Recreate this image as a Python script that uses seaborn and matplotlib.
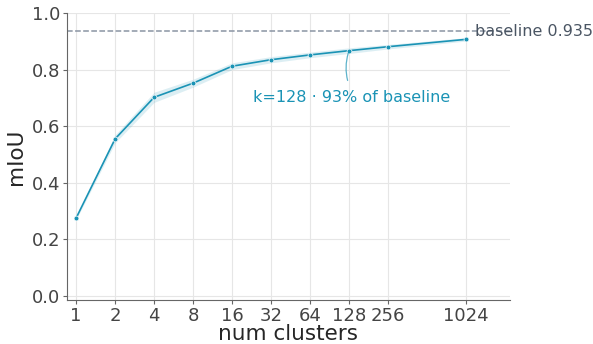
import numpy as np
import pandas as pd
import matplotlib
matplotlib.use("Agg")
import matplotlib.pyplot as plt
import seaborn as sns

clusters = [1, 2, 4, 8, 16, 32, 64, 128, 256, 1024]
miou = [0.275, 0.555, 0.702, 0.752, 0.812, 0.835, 0.852, 0.867, 0.881, 0.907]
band = [0.006, 0.014, 0.018, 0.014, 0.012, 0.011, 0.010, 0.010, 0.008, 0.006]
baseline = 0.935

line_color = "#1a93b5"
df = pd.DataFrame({"num clusters": clusters, "mIoU": miou})

sns.set_style("whitegrid", {"grid.color": "#e6e6e6", "axes.edgecolor": "#666666"})
plt.rcParams["font.family"] = ["DejaVu Sans"]

fig, ax = plt.subplots(figsize=(5.93, 3.44), dpi=100)

lo = np.array(miou) - np.array(band)
hi = np.array(miou) + np.array(band)
ax.fill_between(clusters, lo, hi, color=line_color, alpha=0.15, linewidth=0)
sns.lineplot(data=df, x="num clusters", y="mIoU", ax=ax, color=line_color,
             linewidth=1.2, marker="o", markersize=3.5, markeredgecolor="white",
             markeredgewidth=0.5)

ax.axhline(baseline, color="#8a94a3", linestyle="--", linewidth=1.1)
ax.text(1200, baseline, "baseline 0.935", color="#4a5563", fontsize=11.5,
        va="center", ha="left")

i = clusters.index(128)
ax.annotate(f"k=128 · {miou[i] / baseline:.0%} of baseline",
            xy=(128, miou[i]), xytext=(133, 0.700),
            ha="center", va="center", color=line_color, fontsize=11.5,
            arrowprops=dict(arrowstyle="-", color=line_color, alpha=0.7,
                            linewidth=0.9, relpos=(0.5, 1.0),
                            connectionstyle="arc3,rad=-0.2",
                            shrinkA=5, shrinkB=2))

ax.set_xscale("log", base=2)
ax.set_xticks(clusters)
ax.set_xticklabels([str(c) for c in clusters])
ax.minorticks_off()
ax.set_xlim(0.85, 2240)
ax.set_ylim(-0.015, 1.0)
ax.set_yticks([0.0, 0.2, 0.4, 0.6, 0.8, 1.0])
ax.set_yticklabels(["0.0", "0.2", "0.4", "0.6", "0.8", "1.0"])
ax.tick_params(axis="both", labelsize=13, labelcolor="#444444", color="#666666",
               length=3, pad=2, bottom=True, left=True)
ax.set_xlabel("num clusters", fontsize=15.5, labelpad=-1)
ax.set_ylabel("mIoU", fontsize=15.5, labelpad=4)
sns.despine(ax=ax)

fig.subplots_adjust(left=0.113, right=0.86, bottom=0.128, top=0.962)
fig.savefig("out.png", dpi=100)
